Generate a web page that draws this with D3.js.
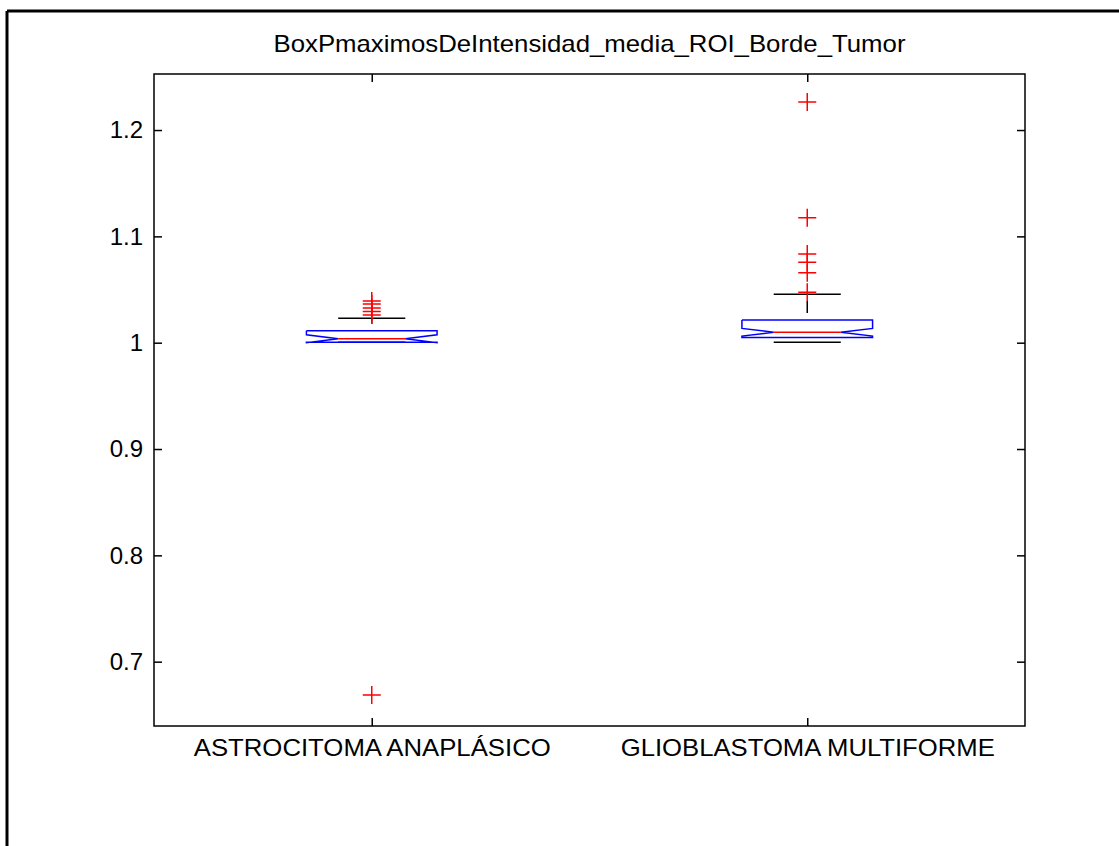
<!DOCTYPE html>
<html>
<head>
<meta charset="utf-8">
<title>BoxPmaximosDeIntensidad_media_ROI_Borde_Tumor</title>
<script src="https://cdnjs.cloudflare.com/ajax/libs/d3/7.8.5/d3.min.js"></script>
<style>
  body { margin: 0; background: #fff; }
  text { font-family: "Liberation Sans", Arial, sans-serif; fill: #000; }
</style>
</head>
<body>
<div id="chart"></div>
<script>
// values
var chartTitle = 'BoxPmaximosDeIntensidad_media_ROI_Borde_Tumor';
var categories = ['ASTROCITOMA ANAPLÁSICO', 'GLIOBLASTOMA MULTIFORME'];
var q1 = [1.0005, 1.0049];
var medians = [1.0037, 1.0098];
var q3 = [1.0113, 1.0213];
var notchLo = [1.0000, 1.0062];
var notchHi = [1.0074, 1.0134];
var whiskerLo = [1.0005, 1.0004];
var whiskerHi = [1.0229, 1.0455];
var outliers = [
  [1.0392, 1.0364, 1.0326, 1.0293, 1.0260, 0.6687],
  [1.2263, 1.1175, 1.0834, 1.0756, 1.0658, 1.0474]
];
var yTicks = [0.7, 0.8, 0.9, 1, 1.1, 1.2];
var yLimits = [0.6395, 1.2527];

var width = 1119, height = 846;
var plotLeft = 154, plotRight = 1025, plotTop = 74, plotBottom = 726;

var svg = d3.select('#chart').append('svg')
  .attr('width', width)
  .attr('height', height);

// figure frame (only top and left edges show)
svg.append('line').attr('x1', 7).attr('x2', width).attr('y1', 11).attr('y2', 11)
  .attr('stroke', '#000').attr('stroke-width', 3);
svg.append('line').attr('x1', 7).attr('x2', 7).attr('y1', 11).attr('y2', height)
  .attr('stroke', '#000').attr('stroke-width', 3);

var x = d3.scaleLinear().domain([0.5, categories.length + 0.5]).range([plotLeft, plotRight]);
var y = d3.scaleLinear().domain(yLimits).range([plotBottom, plotTop]);

var boxHalf = 0.15, innerHalf = 0.077, plusSize = 9;
var catTicks = d3.range(1, categories.length + 1);

// axes, ticks inside on all four sides
svg.append('g').attr('class', 'axis')
  .attr('transform', 'translate(' + plotLeft + ',0)')
  .call(d3.axisLeft(y).tickValues(yTicks).tickSize(-8).tickPadding(11)
    .tickFormat(function (d) { return String(d); }));
svg.append('g').attr('class', 'axis')
  .attr('transform', 'translate(' + plotRight + ',0)')
  .call(d3.axisRight(y).tickValues(yTicks).tickSize(-8).tickFormat(''));
var xAxis = svg.append('g').attr('class', 'axis')
  .attr('transform', 'translate(0,' + plotBottom + ')')
  .call(d3.axisBottom(x).tickValues(catTicks).tickSize(-8).tickPadding(13)
    .tickFormat(function (d) { return categories[d - 1]; }));
svg.append('g').attr('class', 'axis')
  .attr('transform', 'translate(0,' + plotTop + ')')
  .call(d3.axisTop(x).tickValues(catTicks).tickSize(-8).tickFormat(''));

svg.selectAll('.axis path.domain').remove();
svg.selectAll('.axis line').attr('stroke', '#000').attr('stroke-width', 1.5);
svg.selectAll('.axis text').attr('font-size', 24).attr('fill', '#000')
  .style('font-family', '"Liberation Sans", Arial, sans-serif');

// category labels stretched to the widths seen in the reference
var labelWidths = [357, 374];
xAxis.selectAll('text')
  .attr('textLength', function (d) { return labelWidths[d - 1]; })
  .attr('lengthAdjust', 'spacingAndGlyphs');

svg.append('rect')
  .attr('x', plotLeft).attr('y', plotTop)
  .attr('width', plotRight - plotLeft).attr('height', plotBottom - plotTop)
  .attr('fill', 'none').attr('stroke', '#000').attr('stroke-width', 1.5);

var idx = d3.range(categories.length);
var g = svg.append('g');

// whiskers (dashed stems, solid caps)
idx.forEach(function (i) {
  var cx = x(i + 1);
  [[q3[i], whiskerHi[i]], [q1[i], whiskerLo[i]]].forEach(function (p) {
    g.append('line')
      .attr('x1', cx).attr('x2', cx)
      .attr('y1', y(p[0])).attr('y2', y(p[1]))
      .attr('stroke', '#000').attr('stroke-width', 1.5)
      .attr('stroke-dasharray', '12,7').attr('stroke-dashoffset', 12);
  });
  [whiskerHi[i], whiskerLo[i]].forEach(function (w) {
    g.append('line')
      .attr('x1', x(i + 1 - innerHalf)).attr('x2', x(i + 1 + innerHalf))
      .attr('y1', y(w)).attr('y2', y(w))
      .attr('stroke', '#000').attr('stroke-width', 1.5);
  });
});

// notched boxes
g.selectAll('path.box')
  .data(idx)
  .enter()
  .append('path')
  .attr('class', 'box')
  .attr('d', function (i) {
    var lb = i + 1 - boxHalf, lf = i + 1 - innerHalf, rb = i + 1 + boxHalf, rf = i + 1 + innerHalf;
    var xs = [lb, lb, lf, lb, lb, rb, rb, rf, rb, rb, lb];
    var ys = [q3[i], notchHi[i], medians[i], notchLo[i], q1[i], q1[i], notchLo[i], medians[i], notchHi[i], q3[i], q3[i]];
    return d3.line()(xs.map(function (v, k) { return [x(v), y(ys[k])]; }));
  })
  .attr('fill', 'none')
  .attr('stroke', '#0000ff')
  .attr('stroke-width', 1.5);

// medians
g.selectAll('line.median')
  .data(idx)
  .enter()
  .append('line')
  .attr('class', 'median')
  .attr('x1', function (i) { return x(i + 1 - innerHalf); })
  .attr('x2', function (i) { return x(i + 1 + innerHalf); })
  .attr('y1', function (i) { return y(medians[i]); })
  .attr('y2', function (i) { return y(medians[i]); })
  .attr('stroke', '#ff0000')
  .attr('stroke-width', 1.5);

// outliers as red plus signs
var pts = [];
idx.forEach(function (i) {
  outliers[i].forEach(function (v) { pts.push({ cat: i + 1, value: v }); });
});
g.selectAll('path.outlier')
  .data(pts)
  .enter()
  .append('path')
  .attr('class', 'outlier')
  .attr('d', function (d) {
    var cx = x(d.cat), cy = y(d.value);
    return 'M' + (cx - plusSize) + ',' + cy + 'H' + (cx + plusSize) +
      'M' + cx + ',' + (cy - plusSize) + 'V' + (cy + plusSize);
  })
  .attr('stroke', '#ff0000')
  .attr('stroke-width', 1.5)
  .attr('fill', 'none');

// title
svg.append('text')
  .attr('x', (plotLeft + plotRight) / 2)
  .attr('y', 52)
  .attr('text-anchor', 'middle')
  .attr('font-size', 24)
  .attr('textLength', 632)
  .attr('lengthAdjust', 'spacingAndGlyphs')
  .text(chartTitle);
</script>
</body>
</html>
